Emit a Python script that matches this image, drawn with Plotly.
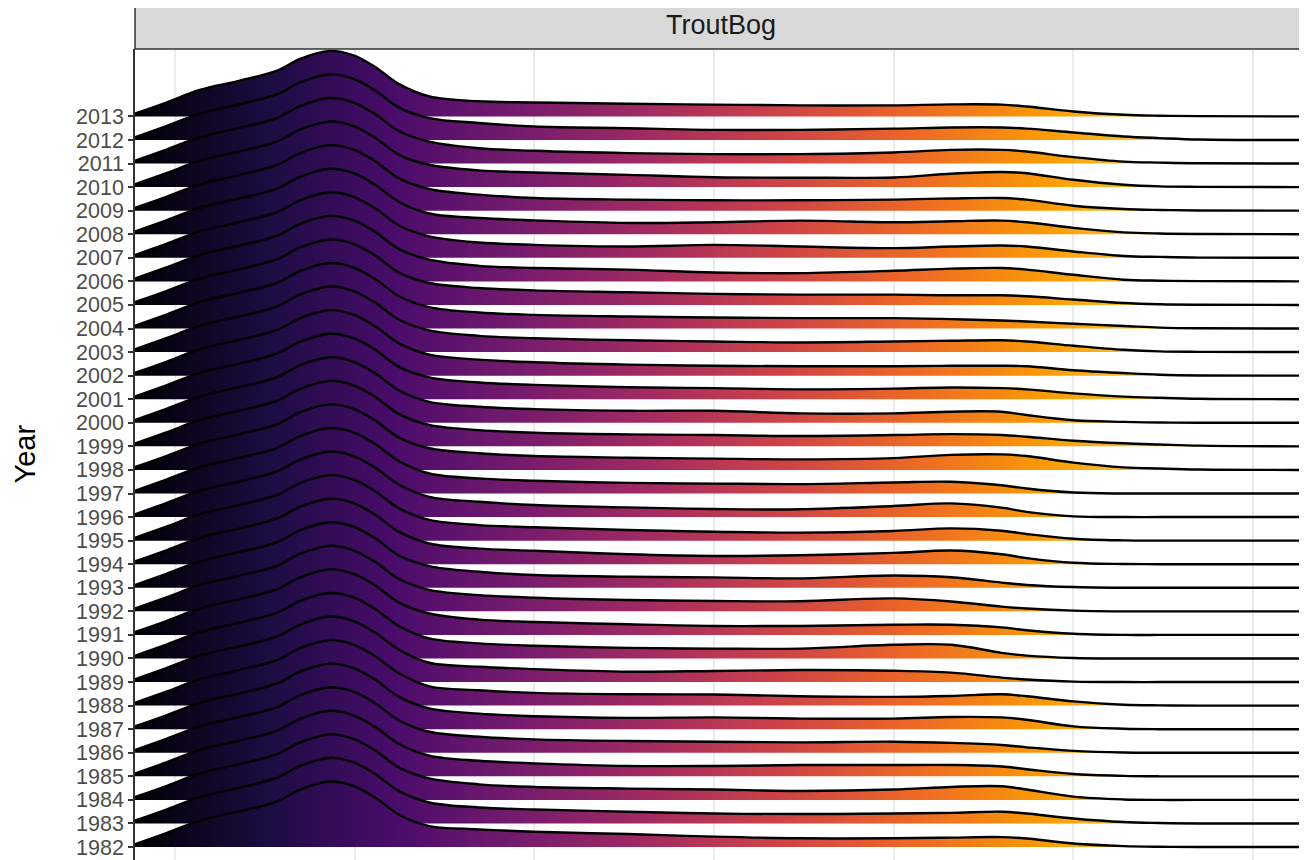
import plotly.graph_objects as go
import plotly.colors as pc

# ---------------- data ----------------
years = list(range(1982, 2014))

# temperature knots (deg C) for the common cold part of every ridge
left_temps = [-1.11, -0.22, 0.69, 1.75, 2.83, 3.5, 4.3, 4.95, 5.55, 6.25]
left_heights = [0.12, 0.60, 1.12, 1.50, 1.93, 2.45, 2.78, 2.60, 2.12, 1.36]

# temperature knots for the warm part (differs year to year)
right_temps = [7.08, 8.46, 10.0, 12.6, 15.0, 17.4, 20.0, 21.6, 23.0, 23.7, 25.0, 26.4, 27.4, 28.5, 31.5]

# ridge heights (in row units) at right_temps, one row per year 1982..2013
right_heights = [
    [0.89, 0.75, 0.65, 0.55, 0.44, 0.37, 0.37, 0.40, 0.42, 0.36, 0.15, 0.04, 0.01, 0, 0],  # 1982
    [0.89, 0.68, 0.59, 0.50, 0.42, 0.40, 0.42, 0.45, 0.50, 0.42, 0.21, 0.06, 0.02, 0, 0],  # 1983
    [0.91, 0.66, 0.55, 0.48, 0.44, 0.38, 0.44, 0.55, 0.58, 0.44, 0.14, 0.02, 0, 0, 0],     # 1984
    [0.88, 0.66, 0.55, 0.44, 0.44, 0.48, 0.48, 0.48, 0.42, 0.30, 0.10, 0.02, 0, 0, 0],     # 1985
    [0.89, 0.68, 0.57, 0.50, 0.47, 0.44, 0.47, 0.42, 0.33, 0.23, 0.08, 0.01, 0, 0, 0],     # 1986
    [0.88, 0.66, 0.55, 0.48, 0.50, 0.45, 0.45, 0.52, 0.50, 0.40, 0.12, 0.02, 0, 0, 0],     # 1987
    [0.82, 0.65, 0.54, 0.48, 0.47, 0.40, 0.37, 0.41, 0.48, 0.40, 0.18, 0.04, 0.01, 0, 0],  # 1988
    [0.82, 0.65, 0.55, 0.44, 0.47, 0.51, 0.48, 0.40, 0.19, 0.11, 0.02, 0, 0, 0, 0],        # 1989
    [0.85, 0.64, 0.54, 0.45, 0.42, 0.42, 0.58, 0.58, 0.24, 0.12, 0.02, 0, 0, 0, 0],        # 1990
    [0.91, 0.65, 0.55, 0.45, 0.38, 0.38, 0.43, 0.43, 0.32, 0.20, 0.05, 0, 0, 0, 0],        # 1991
    [0.91, 0.69, 0.58, 0.48, 0.44, 0.43, 0.55, 0.42, 0.20, 0.12, 0.03, 0, 0, 0, 0],        # 1992
    [0.92, 0.68, 0.54, 0.47, 0.44, 0.40, 0.52, 0.45, 0.22, 0.12, 0.03, 0, 0, 0, 0],        # 1993
    [0.88, 0.66, 0.57, 0.42, 0.35, 0.38, 0.48, 0.58, 0.42, 0.26, 0.06, 0.01, 0, 0, 0],     # 1994
    [0.88, 0.66, 0.57, 0.45, 0.38, 0.34, 0.41, 0.52, 0.42, 0.28, 0.08, 0.01, 0, 0, 0],     # 1995
    [0.86, 0.65, 0.51, 0.41, 0.34, 0.33, 0.47, 0.58, 0.40, 0.22, 0.03, 0, 0, 0, 0],        # 1996
    [0.85, 0.64, 0.54, 0.45, 0.42, 0.40, 0.47, 0.50, 0.35, 0.21, 0.04, 0, 0, 0, 0],        # 1997
    [0.92, 0.71, 0.59, 0.52, 0.48, 0.45, 0.50, 0.64, 0.66, 0.59, 0.31, 0.11, 0.06, 0.02, 0],  # 1998
    [0.91, 0.69, 0.58, 0.51, 0.48, 0.44, 0.48, 0.52, 0.48, 0.41, 0.24, 0.13, 0.08, 0.03, 0],  # 1999
    [0.89, 0.68, 0.58, 0.51, 0.51, 0.40, 0.40, 0.47, 0.47, 0.33, 0.11, 0.04, 0.01, 0, 0],     # 2000
    [0.93, 0.71, 0.61, 0.51, 0.47, 0.42, 0.45, 0.50, 0.47, 0.42, 0.25, 0.11, 0.06, 0.02, 0],  # 2001
    [0.89, 0.68, 0.57, 0.47, 0.42, 0.40, 0.40, 0.42, 0.42, 0.40, 0.23, 0.11, 0.04, 0.01, 0],  # 2002
    [0.92, 0.69, 0.59, 0.50, 0.45, 0.41, 0.45, 0.48, 0.50, 0.45, 0.27, 0.10, 0.03, 0.01, 0],  # 2003
    [0.91, 0.68, 0.58, 0.51, 0.47, 0.44, 0.44, 0.40, 0.34, 0.30, 0.20, 0.11, 0.04, 0.01, 0],  # 2004
    [0.93, 0.72, 0.62, 0.54, 0.47, 0.44, 0.44, 0.41, 0.41, 0.37, 0.23, 0.08, 0.03, 0.01, 0],  # 2005
    [0.92, 0.66, 0.57, 0.50, 0.38, 0.35, 0.45, 0.54, 0.57, 0.50, 0.28, 0.07, 0.03, 0.01, 0],  # 2006
    [0.91, 0.65, 0.55, 0.48, 0.55, 0.48, 0.41, 0.48, 0.52, 0.48, 0.27, 0.08, 0.04, 0.01, 0],  # 2007
    [0.88, 0.69, 0.59, 0.48, 0.51, 0.58, 0.51, 0.55, 0.58, 0.51, 0.27, 0.08, 0.03, 0.01, 0],  # 2008
    [0.92, 0.68, 0.54, 0.47, 0.44, 0.44, 0.47, 0.52, 0.54, 0.47, 0.21, 0.07, 0.03, 0.01, 0],  # 2009
    [0.95, 0.71, 0.62, 0.52, 0.42, 0.40, 0.41, 0.57, 0.64, 0.59, 0.31, 0.10, 0.03, 0.01, 0],  # 2010
    [0.93, 0.65, 0.54, 0.44, 0.40, 0.40, 0.47, 0.58, 0.58, 0.51, 0.27, 0.08, 0.04, 0.01, 0],  # 2011
    [0.93, 0.72, 0.57, 0.50, 0.43, 0.43, 0.48, 0.53, 0.53, 0.48, 0.32, 0.15, 0.08, 0.02, 0],  # 2012
    [0.85, 0.64, 0.59, 0.54, 0.50, 0.47, 0.47, 0.51, 0.50, 0.42, 0.21, 0.07, 0.03, 0.01, 0],  # 2013
]

grid_ticks = [0, 5, 10, 15, 20, 25, 30]
x_range = [-1.11, 31.5]
y_range = [1981.45, 2015.86]
facet_label = "TroutBog"
y_title = "Year"

# ---------------- figure ----------------
inferno = pc.sequential.Inferno
inferno_scale = [[i / (len(inferno) - 1), c] for i, c in enumerate(inferno)]

temps = left_temps + right_temps
fig = go.Figure()

# draw from the top row (2013) down so lower ridges sit in front
for year, tail in sorted(zip(years, right_heights), key=lambda p: -p[0]):
    heights = left_heights + tail
    ys = [year + h for h in heights]
    fig.add_trace(go.Scatter(
        x=[temps[0], temps[-1]], y=[year, year], mode="lines",
        line=dict(width=0, color="rgba(0,0,0,0)"), hoverinfo="skip", showlegend=False))
    fig.add_trace(go.Scatter(
        x=temps, y=ys, mode="lines", fill="tonexty",
        fillgradient=dict(type="horizontal", colorscale=inferno_scale,
                          start=x_range[0], stop=x_range[1]),
        line=dict(width=0, shape="spline", color="rgba(0,0,0,0)"),
        hoverinfo="skip", showlegend=False))
    fig.add_trace(go.Scatter(
        x=temps, y=ys, mode="lines",
        line=dict(width=2.4, shape="spline", color="black"),
        hoverinfo="skip", showlegend=False))

# the page body has an 8px margin, so the figure is sized to fit inside the window
W, H = 1299, 852
top, left = 41, 127
plot_w = W - left
plot_h = H - top
strip_h = 47

fig.update_layout(
    width=W, height=H,
    margin=dict(l=left, r=0, t=top, b=0, pad=0),
    paper_bgcolor="white", plot_bgcolor="white",
    font=dict(family="Liberation Sans, Arial, sans-serif"),
    xaxis=dict(range=x_range, tickvals=grid_ticks, showticklabels=False, ticks="",
               showgrid=True, gridcolor="#ebebeb", gridwidth=1.6, zeroline=False,
               showline=False, automargin=False),
    yaxis=dict(range=y_range, tickvals=years, ticktext=[str(y) for y in years],
               ticks="outside", ticklen=5, tickwidth=1.5, tickcolor="#333333",
               tickfont=dict(size=21.5, color="#4d4d4d"),
               showgrid=False, zeroline=False, automargin=False,
               showline=True, linecolor="#333333", linewidth=1.5),
    shapes=[dict(type="rect", xref="paper", yref="paper",
                 x0=0, x1=1.02, y0=1, y1=1 + strip_h / plot_h,
                 fillcolor="#d9d9d9", line=dict(color="#333333", width=1.5))],
    annotations=[
        dict(text=facet_label, xref="paper", yref="paper", x=0.5, y=1 + (strip_h / 2) / plot_h,
             showarrow=False, xanchor="center", yanchor="middle",
             font=dict(size=27, color="#1a1a1a")),
        dict(text=y_title, xref="paper", yref="paper", x=(16 - left) / plot_w, y=0.5,
             showarrow=False, textangle=-90, xanchor="center", yanchor="middle",
             font=dict(size=29, color="black")),
    ],
)

fig.write_html("out.html")
